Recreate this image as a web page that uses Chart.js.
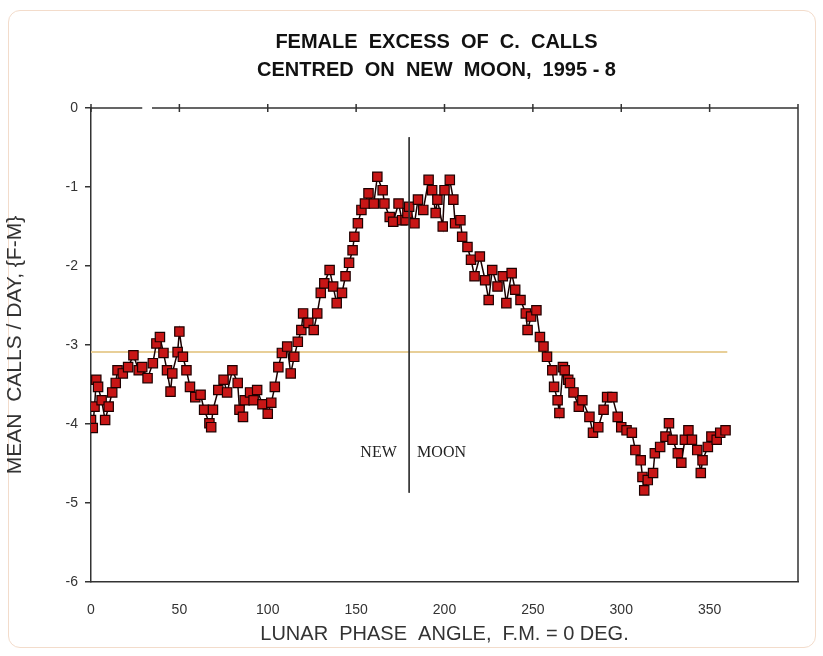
<!DOCTYPE html>
<html>
<head>
<meta charset="utf-8">
<script src="https://cdn.jsdelivr.net/npm/chart.js@4.4.1/dist/chart.umd.min.js"></script>
<style>
  html, body { margin: 0; padding: 0; background: #ffffff; }
  #card {
    position: absolute; left: 8px; top: 10px; width: 808px; height: 638px;
    border: 1px solid #f3dccb; border-radius: 12px; box-sizing: border-box;
  }
  #wrap { position: absolute; left: 0; top: 0; width: 823px; height: 656px; }
</style>
</head>
<body>
<div id="card"></div>
<div id="wrap"><canvas id="chart" width="823" height="656"></canvas></div>
<script>
'use strict';

// Female excess of C. calls, centred on new moon

var titleLines = ['FEMALE  EXCESS  OF  C.  CALLS', 'CENTRED  ON  NEW  MOON,  1995 - 8'];
var xTitle = 'LUNAR  PHASE  ANGLE,  F.M. = 0 DEG.';
var yTitle = 'MEAN  CALLS / DAY, {F-M}';

var phaseDeg = [0, 1, 2, 3, 4, 6, 8, 10, 12, 14, 15, 18, 21, 24, 27, 29, 32, 35, 37, 39,
	41, 43, 45, 46, 49, 50, 52, 54, 56, 59, 62, 64, 67, 68, 69, 72, 75, 77, 80, 83,
	84, 86, 87, 90, 92, 94, 97, 100, 102, 104, 106, 108, 111, 113, 115, 117, 119, 120, 123, 126,
	128, 130, 132, 135, 137, 139, 142, 144, 146, 148, 149, 151, 153, 155, 157, 160, 162, 165, 166, 169,
	171, 174, 176, 178, 179, 180, 183, 185, 188, 191, 193, 195, 196, 199, 200, 203, 205, 206, 209, 210,
	213, 215, 217, 220, 223, 225, 227, 230, 233, 235, 238, 240, 243, 246, 247, 249, 252, 254, 256, 258,
	261, 262, 264, 265, 267, 268, 270, 271, 273, 276, 278, 282, 284, 287, 290, 292, 295, 298, 300, 303,
	306, 308, 311, 312, 313, 315, 318, 319, 322, 325, 327, 329, 332, 334, 336, 338, 340, 343, 345, 346,
	349, 351, 354, 356, 359];

var meanCalls = [-3.95, -4.05, -3.78, -3.44, -3.53, -3.70, -3.95, -3.78, -3.60, -3.48, -3.32, -3.36, -3.28, -3.13, -3.32, -3.28, -3.42, -3.23, -2.98, -2.90,
	-3.10, -3.32, -3.59, -3.36, -3.09, -2.83, -3.15, -3.32, -3.53, -3.66, -3.63, -3.82, -3.99, -4.04, -3.82, -3.57, -3.44, -3.60, -3.32, -3.48,
	-3.82, -3.91, -3.70, -3.60, -3.70, -3.57, -3.75, -3.87, -3.73, -3.53, -3.28, -3.10, -3.02, -3.36, -3.15, -2.96, -2.81, -2.60, -2.72, -2.81,
	-2.60, -2.34, -2.22, -2.05, -2.26, -2.47, -2.34, -2.13, -1.96, -1.80, -1.63, -1.46, -1.29, -1.21, -1.08, -1.21, -0.87, -1.04, -1.21, -1.38,
	-1.44, -1.21, -1.42, -1.42, -1.33, -1.25, -1.46, -1.16, -1.29, -0.91, -1.04, -1.33, -1.16, -1.50, -1.04, -0.91, -1.16, -1.46, -1.42, -1.63,
	-1.76, -1.92, -2.13, -1.88, -2.18, -2.43, -2.05, -2.26, -2.13, -2.47, -2.09, -2.30, -2.43, -2.60, -2.81, -2.64, -2.56, -2.90, -3.02, -3.15,
	-3.32, -3.53, -3.70, -3.86, -3.28, -3.32, -3.44, -3.48, -3.60, -3.78, -3.70, -3.91, -4.11, -4.04, -3.82, -3.66, -3.66, -3.91, -4.04, -4.08,
	-4.11, -4.33, -4.46, -4.67, -4.84, -4.71, -4.62, -4.37, -4.29, -4.16, -3.99, -4.20, -4.37, -4.49, -4.20, -4.08, -4.20, -4.33, -4.62, -4.46,
	-4.29, -4.16, -4.20, -4.11, -4.08];

// reference lines: overall mean, and new moon marker
var meanLevel = -3.09;
var meanSpan = [0, 360];
var newMoonDeg = 180;
var newMoonSpan = [-0.37, -4.87];
var newMoonLabelY = -4.42;
var newLabelEnd = 173;
var moonLabelStart = 184.5;
var topGap = [29, 34.5];

var xMin = 0, xMax = 400, xStep = 50;
var yMin = -6, yMax = 0, yStep = 1;

var points = phaseDeg.map(function (d, i) { return { x: d, y: meanCalls[i] }; });

var chartDecor = {
	id: 'chartDecor',
	afterDraw: function (chart) {
		var c = chart.ctx, a = chart.chartArea, xs = chart.scales.x, ys = chart.scales.y;
		c.save();
		// titles
		c.fillStyle = '#111';
		c.font = 'bold 20px "Liberation Sans", Arial, sans-serif';
		c.textAlign = 'center';
		c.textBaseline = 'middle';
		var cx = (a.left + a.right) / 2;
		c.fillText(titleLines[0], cx - 8, 42);
		c.fillText(titleLines[1], cx - 8, 70);

		// top axis line (crosses at y = 0) with crossing ticks
		c.strokeStyle = '#333';
		c.lineWidth = 1.5;
		var y0 = ys.getPixelForValue(0);
		c.beginPath();
		c.moveTo(a.left, y0);
		c.lineTo(xs.getPixelForValue(topGap[0]), y0);
		c.moveTo(xs.getPixelForValue(topGap[1]), y0);
		c.lineTo(a.right, y0);
		for (var v = xMin; v <= xMax; v += xStep) {
			var px = xs.getPixelForValue(v);
			c.moveTo(px, y0 - 4);
			c.lineTo(px, y0 + 4);
		}
		// right border of plot area
		c.moveTo(a.right, a.top);
		c.lineTo(a.right, a.bottom);
		c.stroke();

		// NEW | MOON
		c.fillStyle = '#222';
		c.font = '16px "Liberation Serif", "Times New Roman", serif';
		c.textBaseline = 'alphabetic';
		var ly = ys.getPixelForValue(newMoonLabelY);
		c.textAlign = 'right';
		c.fillText('NEW', xs.getPixelForValue(newLabelEnd), ly);
		c.textAlign = 'left';
		c.fillText('MOON', xs.getPixelForValue(moonLabelStart), ly);
		c.restore();
	}
};

var ctx = document.getElementById('chart');

var scatterChart = new Chart(ctx, {
	type: 'scatter',
	data: {
		datasets: [{
			label: 'new moon',
			data: [{ x: newMoonDeg, y: newMoonSpan[0] }, { x: newMoonDeg, y: newMoonSpan[1] }],
			showLine: true,
			borderColor: '#333',
			borderWidth: 1,
			pointRadius: 0
		}, {
			label: 'F-M',
			data: points,
			showLine: true,
			borderColor: '#1a0000',
			borderWidth: 1.5,
			pointStyle: 'rect',
			pointRadius: 6.6,
			pointBackgroundColor: '#c81616',
			pointBorderColor: '#1e0000',
			pointBorderWidth: 1.2
		}, {
			label: 'mean',
			data: [{ x: meanSpan[0], y: meanLevel }, { x: meanSpan[1], y: meanLevel }],
			showLine: true,
			borderColor: '#e8cf98',
			borderWidth: 2,
			pointRadius: 0
		}]
	},
	options: {
		responsive: false,
		animation: false,
		events: [],
		layout: { padding: { top: 108, left: 0, right: 25, bottom: 0 } },
		plugins: {
			legend: { display: false },
			tooltip: { enabled: false }
		},
		scales: {
			x: {
				type: 'linear',
				min: xMin,
				max: xMax,
				grid: { display: false },
				border: { display: true, color: '#333', width: 1.5 },
				ticks: {
					stepSize: xStep,
					padding: 12,
					color: '#333',
					font: { family: '"Liberation Sans", Arial, sans-serif', size: 14 },
					maxRotation: 0,
					callback: function (v) { return v === xMax ? '' : v; }
				},
				title: {
					display: true,
					text: xTitle,
					color: '#333',
					font: { family: '"Liberation Sans", Arial, sans-serif', size: 20 },
					padding: { top: 0, bottom: 10 }
				},
				afterFit: function (s) { s.height = 74; }
			},
			y: {
				min: yMin,
				max: yMax,
				grid: { display: true, drawOnChartArea: false, drawTicks: true, tickLength: 6, color: '#333', lineWidth: 1.5 },
				border: { display: true, color: '#333', width: 1.5 },
				ticks: {
					stepSize: yStep,
					padding: 7,
					color: '#333',
					font: { family: '"Liberation Sans", Arial, sans-serif', size: 14 }
				},
				title: {
					display: true,
					text: yTitle,
					color: '#333',
					font: { family: '"Liberation Sans", Arial, sans-serif', size: 21 },
					padding: { top: 3, bottom: 0 }
				},
				afterFit: function (s) { s.width = 91; }
			}
		}
	},
	plugins: [chartDecor]
});
</script>
</body>
</html>
